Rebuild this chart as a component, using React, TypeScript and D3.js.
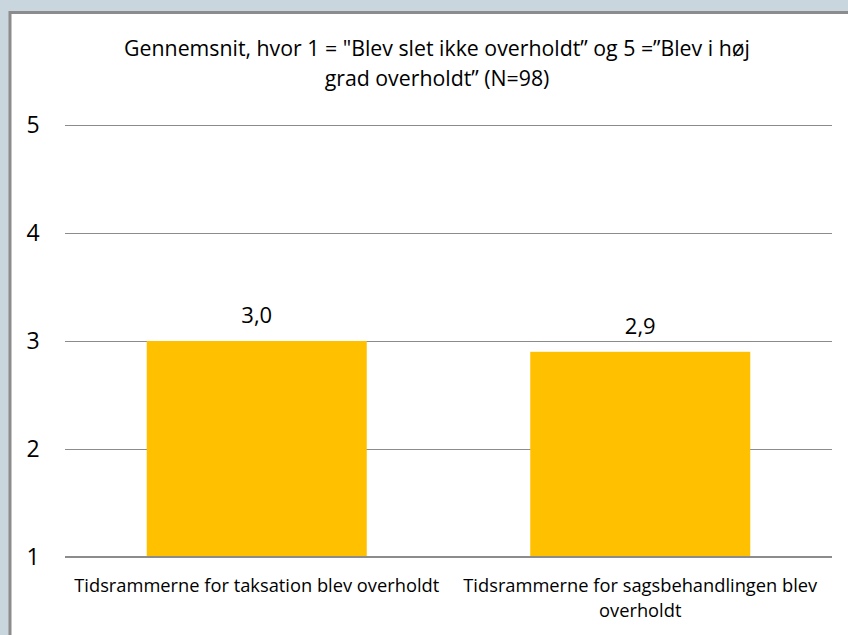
import React from "react";
import * as d3 from "d3";

const categories = [
  "Tidsrammerne for taksation blev overholdt",
  "Tidsrammerne for sagsbehandlingen blev overholdt",
];
const values = [3.0, 2.9];
const yTicks = [1, 2, 3, 4, 5];
const titleLines = [
  "Gennemsnit, hvor 1 = \"Blev slet ikke overholdt\u201D og 5 =\u201DBlev i høj",
  "grad overholdt\u201D (N=98)",
];
const categoryLines = [
  ["Tidsrammerne for taksation blev overholdt"],
  ["Tidsrammerne for sagsbehandlingen blev", "overholdt"],
];

const W = 848;
const H = 635;
const FONT = "'Open Sans', 'Noto Sans', sans-serif";

export default function App() {
  const left = 65;
  const right = 832;
  const y = d3.scaleLinear().domain([1, 5]).range([557, 125]);
  const x = d3.scaleBand<string>().domain(categories).range([left, right]).paddingInner(163.5 / 383.5).paddingOuter(163.5 / 383.5 / 2);
  const fmt = (v: number) => d3.format(".1f")(v).replace(".", ",");
  return (
    <svg width={W} height={H} style={{ position: "fixed", left: 0, top: 0 }}>
      <rect x={0} y={0} width={W} height={H} fill="#c9d6dd" />
      <rect x={10} y={12.5} width={W} height={H} fill="#ffffff" stroke="#8c8c8c" strokeWidth={3} />
      {titleLines.map((t, i) => (
        <text key={i} x={437} y={56 + i * 30} textAnchor="middle" fontFamily={FONT} fontSize={21.3} fill="#000">
          {t}
        </text>
      ))}
      {yTicks.map((t) => (
        <g key={t}>
          {t !== 1 && (
            <line x1={left} x2={right} y1={Math.round(y(t)) + 0.5} y2={Math.round(y(t)) + 0.5} stroke="#8c8c8c" strokeWidth={1} />
          )}
          <text x={33} y={y(t)} dy="0.35em" textAnchor="middle" fontFamily={FONT} fontSize={23} fill="#000">
            {t}
          </text>
        </g>
      ))}
      {categories.map((c, i) => (
        <g key={c}>
          <rect x={x(c)!} y={y(values[i])} width={x.bandwidth()} height={y(1) - y(values[i])} fill="#ffc000" />
          <text x={x(c)! + x.bandwidth() / 2} y={y(values[i]) - 18} textAnchor="middle" fontFamily={FONT} fontSize={22} fill="#000">
            {fmt(values[i])}
          </text>
        </g>
      ))}
      <line x1={left} x2={right} y1={y(1)} y2={y(1)} stroke="#8c8c8c" strokeWidth={2} />
      {categories.map((c, i) => (
        <g key={c + "l"}>
          {categoryLines[i].map((l, j) => (
            <text key={j} x={x(c)! + x.bandwidth() / 2} y={592 + j * 25} textAnchor="middle" fontFamily={FONT} fontSize={18.3} fill="#000">
              {l}
            </text>
          ))}
        </g>
      ))}
    </svg>
  );
}
